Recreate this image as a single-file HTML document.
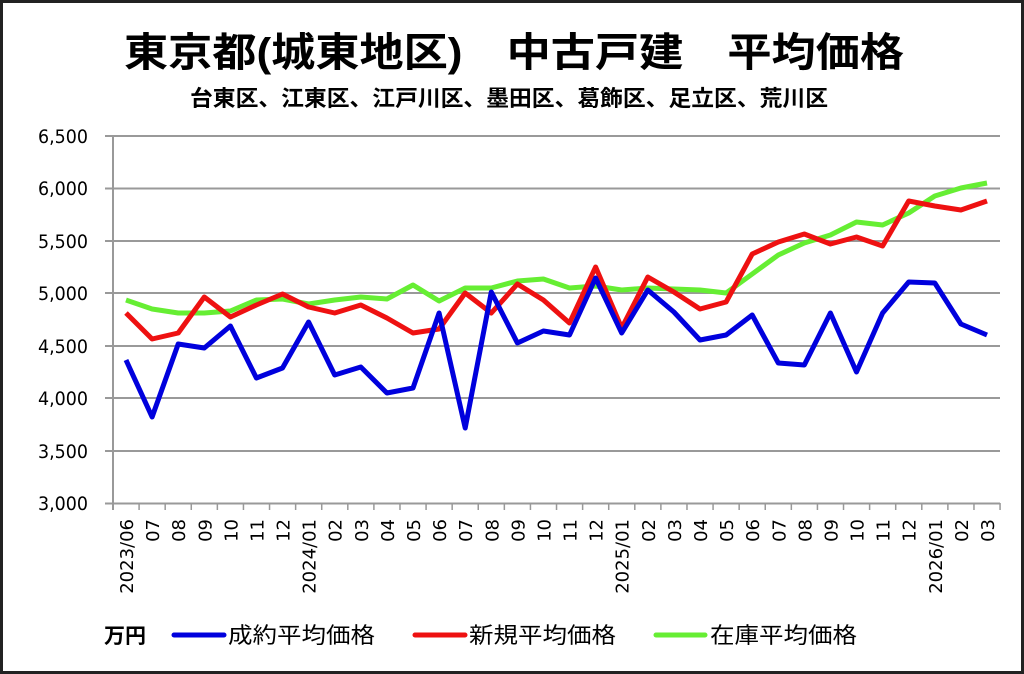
<!DOCTYPE html>
<html><head><meta charset="utf-8"><style>
html,body{margin:0;padding:0;background:#fff}
svg{display:block}
</style></head><body>
<svg width="1024" height="674" xmlns="http://www.w3.org/2000/svg" font-family="'Liberation Sans','Noto Sans CJK JP',sans-serif">
<rect x="1.5" y="1.5" width="1021" height="671" fill="#fff" stroke="#222" stroke-width="3"/>
<text x="514" y="66" font-size="40" font-weight="bold" text-anchor="middle" textLength="780" lengthAdjust="spacingAndGlyphs">東京都(城東地区)　中古戸建　平均価格</text>
<text x="509" y="106" font-size="22" font-weight="bold" text-anchor="middle" textLength="638" lengthAdjust="spacingAndGlyphs">台東区、江東区、江戸川区、墨田区、葛飾区、足立区、荒川区</text>
<g stroke="#999" stroke-width="2">
<line x1="105" y1="136" x2="1000" y2="136"/>
<line x1="105" y1="188.5" x2="1000" y2="188.5"/>
<line x1="105" y1="241" x2="1000" y2="241"/>
<line x1="105" y1="293" x2="1000" y2="293"/>
<line x1="105" y1="346" x2="1000" y2="346"/>
<line x1="105" y1="398" x2="1000" y2="398"/>
<line x1="105" y1="451" x2="1000" y2="451"/>
<line x1="105" y1="503.5" x2="1000" y2="503.5"/>
<line x1="113" y1="136" x2="113" y2="510"/>
</g>
<g stroke="#999" stroke-width="1.5" id="ticks"></g>
<g font-size="19" text-anchor="end" fill="#000" font-family="'DejaVu Sans',sans-serif">
<text x="88" y="143" textLength="50" lengthAdjust="spacingAndGlyphs">6,500</text>
<text x="88" y="195" textLength="50" lengthAdjust="spacingAndGlyphs">6,000</text>
<text x="88" y="248" textLength="50" lengthAdjust="spacingAndGlyphs">5,500</text>
<text x="88" y="300" textLength="50" lengthAdjust="spacingAndGlyphs">5,000</text>
<text x="88" y="353" textLength="50" lengthAdjust="spacingAndGlyphs">4,500</text>
<text x="88" y="405" textLength="50" lengthAdjust="spacingAndGlyphs">4,000</text>
<text x="88" y="458" textLength="50" lengthAdjust="spacingAndGlyphs">3,500</text>
<text x="88" y="510" textLength="50" lengthAdjust="spacingAndGlyphs">3,000</text>
</g>
<g id="xl" font-size="18" font-family="'DejaVu Sans',sans-serif"></g>
<polyline id="g" fill="none" stroke="#66ee33" stroke-width="5" stroke-linejoin="round"/>
<polyline id="r" fill="none" stroke="#ee1111" stroke-width="5" stroke-linejoin="round"/>
<polyline id="b" fill="none" stroke="#0000dd" stroke-width="5" stroke-linejoin="round"/>
<text x="104" y="643" font-size="21" font-weight="bold">万円</text>
<line x1="174" y1="635" x2="224" y2="635" stroke="#0000dd" stroke-width="5" stroke-linecap="round"/>
<text x="228" y="643" font-size="22" textLength="147" lengthAdjust="spacingAndGlyphs">成約平均価格</text>
<line x1="415" y1="635" x2="465" y2="635" stroke="#ee1111" stroke-width="5" stroke-linecap="round"/>
<text x="469" y="643" font-size="22" textLength="147" lengthAdjust="spacingAndGlyphs">新規平均価格</text>
<line x1="656" y1="635" x2="705" y2="635" stroke="#66ee33" stroke-width="5" stroke-linecap="round"/>
<text x="710" y="643" font-size="22" textLength="147" lengthAdjust="spacingAndGlyphs">在庫平均価格</text>
<script>
var b=[360,417,344,348,326,378,368,322,375,367,393,388,313,428,292,343,331,335,278,333,290,312,340,335,315,363,365,313,372,313,282,283,324,335];
var r=[313,339,333,297,317,305,294,307,313,305,318,333,329,293,313,284,300,323,267,328,277,292,309,302,254,242,234,244,237,246,201,206,210,201];
var g=[300,309,313,313,311,300,299,304,300,297,299,285,301,288,288,281,279,288,286,290,288,289,290,293,274,255,243,235,222,225,213,196,188,183];
function pts(a){return a.map(function(y,i){return (126+26.09*i).toFixed(1)+','+y}).join(' ')}
document.getElementById('b').setAttribute('points',pts(b));
document.getElementById('r').setAttribute('points',pts(r));
document.getElementById('g').setAttribute('points',pts(g));
var ns='http://www.w3.org/2000/svg',t=document.getElementById('ticks'),xl=document.getElementById('xl');
for(var i=0;i<=34;i++){var l=document.createElementNS(ns,'line');var x=113+26.09*i;l.setAttribute('x1',x);l.setAttribute('x2',x);l.setAttribute('y1',503);l.setAttribute('y2',510);t.appendChild(l);}
var labs=['2023/06','07','08','09','10','11','12','2024/01','02','03','04','05','06','07','08','09','10','11','12','2025/01','02','03','04','05','06','07','08','09','10','11','12','2026/01','02','03'];
labs.forEach(function(s,i){var e=document.createElementNS(ns,'text');var x=126+26.09*i+7;e.setAttribute('transform','translate('+x+',519) rotate(-90)');e.setAttribute('text-anchor','end');e.textContent=s;xl.appendChild(e);});
</script>
</svg>
</body></html>
